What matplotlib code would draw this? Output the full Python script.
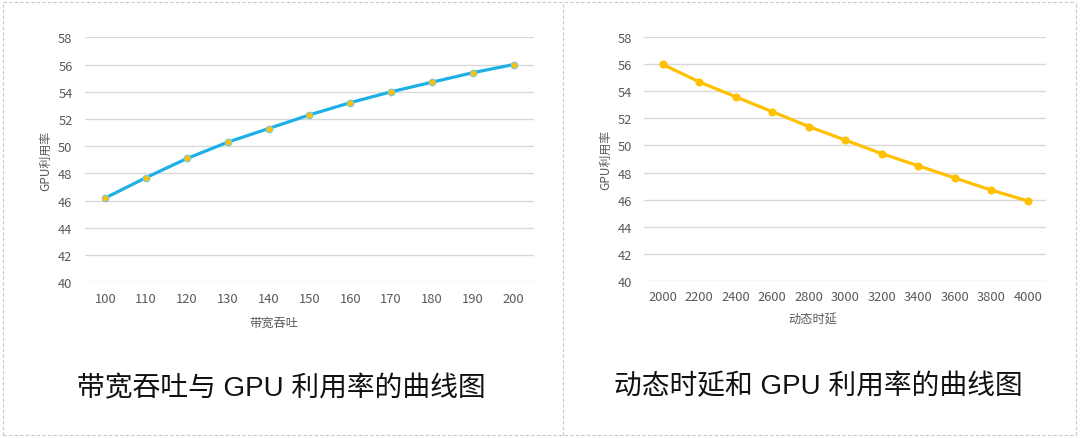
import matplotlib
matplotlib.use("Agg")
import matplotlib.pyplot as plt
from matplotlib.lines import Line2D

plt.rcParams['font.family'] = ['Noto Sans CJK SC', 'DejaVu Sans']

# data
bw_labels = ["100", "110", "120", "130", "140", "150", "160", "170", "180", "190", "200"]
bw_gpu = [46.2, 47.7, 49.1, 50.3, 51.3, 52.3, 53.2, 54.0, 54.7, 55.4, 56.0]

lat_labels = ["2000", "2200", "2400", "2600", "2800", "3000", "3200", "3400", "3600", "3800", "4000"]
lat_gpu = [56.0, 54.7, 53.6, 52.5, 51.4, 50.4, 49.4, 48.5, 47.6, 46.7, 45.9]

y_ticks = [40, 42, 44, 46, 48, 50, 52, 54, 56, 58]

tick_grey = "#595959"
grid_grey = "#D9D9D9"
blue = "#1CB0E6"
yellow = "#FFC000"

fig = plt.figure(figsize=(10.8, 4.39), dpi=100)

def style_axes(ax, labels, xlabel, label_y):
    ax.set_ylim(40, 58)
    ax.set_yticks(y_ticks)
    ax.set_xlim(-0.5, len(labels) - 0.5)
    ax.set_xticks(range(len(labels)))
    ax.set_xticklabels(labels)
    ax.grid(axis="y", color=grid_grey, linewidth=1)
    ax.set_axisbelow(True)
    for s in ax.spines.values():
        s.set_visible(False)
    ax.tick_params(axis="y", length=0, pad=9, labelsize=9.3, labelcolor=tick_grey)
    ax.tick_params(axis="x", length=0, pad=7, labelsize=9.3, labelcolor=tick_grey)
    ax.set_ylabel("GPU利用率", fontsize=8.6, color=tick_grey, labelpad=4)
    ax.set_xlabel(xlabel, fontsize=8.8, color=tick_grey)
    # the x label sits a bit left of the axes centre in the original
    ax.xaxis.set_label_coords(0.42, label_y)

#left chart: bandwidth throughput
ax1 = fig.add_axes([0.0787, 0.3546, 0.4157, 0.5581])
ax1.plot(range(len(bw_labels)), bw_gpu, color=blue, linewidth=2.3,
         marker="o", markersize=4.8, markerfacecolor=yellow, markeredgecolor="#7FC8D8",
         markeredgewidth=0.8)
style_axes(ax1, bw_labels, "带宽吞吐", -0.137)

#right chart: dynamic latency
ax2 = fig.add_axes([0.5967, 0.3583, 0.3718, 0.5545])
ax2.plot(range(len(lat_labels)), lat_gpu, color=yellow, linewidth=2.3,
         marker="o", markersize=4.8, markerfacecolor=yellow, markeredgecolor=yellow)
style_axes(ax2, lat_labels, "动态时延", -0.133)

#captions under each chart
title_fonts = ['Liberation Sans', 'Noto Sans CJK SC']
fig.text(281 / 1080, 1 - 389 / 439, "带宽吞吐与 GPU 利用率的曲线图", ha="center", va="center",
         fontsize=20, color="#111111", family=title_fonts)
fig.text(818 / 1080, 1 - 387 / 439, "动态时延和 GPU 利用率的曲线图", ha="center", va="center",
         fontsize=20, color="#111111", family=title_fonts)

#dashed frame around the two panels
x0, xm, x1 = 3 / 1080, 563 / 1080, 1076 / 1080
y0, y1 = 1 - 436 / 439, 1 - 3 / 439
frame = [([x0, x1], [y1, y1]), ([x0, x1], [y0, y0]), ([x0, x0], [y0, y1]),
         ([xm, xm], [y0, y1]), ([x1, x1], [y0, y1])]
for xs, ys in frame:
    fig.add_artist(Line2D(xs, ys, transform=fig.transFigure, color="#C8C8C8",
                          linewidth=0.8, linestyle=(0, (3, 2))))

fig.savefig("out.png", dpi=100, facecolor="white")
